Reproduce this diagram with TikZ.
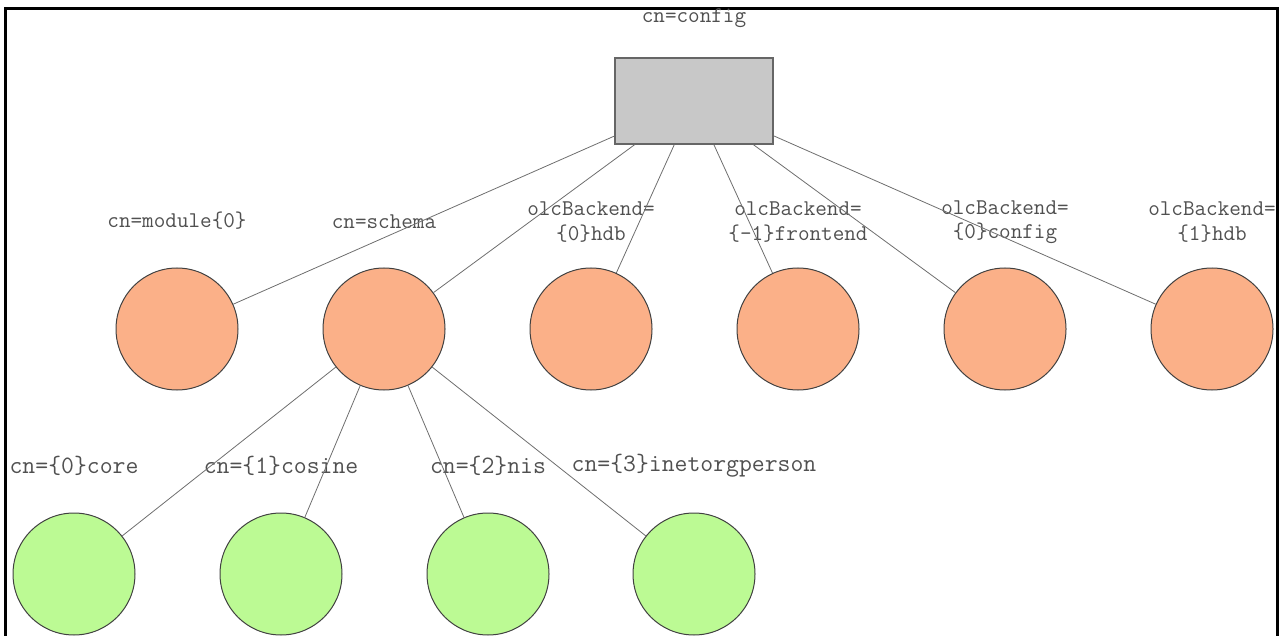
\documentclass[tikz,border=0pt]{standalone}
\usepackage{fontspec}
\definecolor{orangefill}{RGB}{251,176,136}
\definecolor{greenfill}{RGB}{188,250,148}
\definecolor{boxfill}{RGB}{200,200,200}
\definecolor{labelgray}{RGB}{80,80,80}
\definecolor{linegray}{RGB}{110,110,110}
\tikzset{
  orangenode/.style={circle, draw=black!75, line width=1pt, fill=orangefill, minimum size=122pt, inner sep=0pt},
  greennode/.style={circle, draw=black!75, line width=1pt, fill=greenfill, minimum size=122pt, inner sep=0pt},
  rootbox/.style={rectangle, draw=black!60, line width=1.3pt, fill=boxfill, minimum width=158pt, minimum height=86pt, inner sep=0pt},
  toplabel/.style={text=labelgray, font=\fontsize{22.5pt}{24.5pt}\selectfont\ttfamily, align=center, inner sep=0pt},
  botlabel/.style={text=labelgray, font=\fontsize{25pt}{27pt}\selectfont\ttfamily, align=center, inner sep=0pt},
  conn/.style={draw=linegray, line width=0.8pt},
  frameline/.style={draw=black, line width=3pt}
}
\begin{document}
\begin{tikzpicture}[x=1pt,y=-1pt]
\useasboundingbox (0,0) rectangle (1279,636);
% frame
\coordinate (fbl) at (5.5,636);
\coordinate (ftl) at (5.5,8.5);
\coordinate (ftr) at (1277.5,8.5);
\coordinate (fbr) at (1277.5,636);
\draw[frameline] (fbl) -- (ftl) -- (ftr) -- (fbr);
% nodes
\node[rootbox] (root) at (694,101) {};
\node[orangenode] (o1) at (177,329) {};
\node[orangenode] (o2) at (384,329) {};
\node[orangenode] (o3) at (591,329) {};
\node[orangenode] (o4) at (798,329) {};
\node[orangenode] (o5) at (1005,329) {};
\node[orangenode] (o6) at (1212,329) {};
\node[greennode] (g1) at (74,574) {};
\node[greennode] (g2) at (281,574) {};
\node[greennode] (g3) at (488,574) {};
\node[greennode] (g4) at (694,574) {};
% labels
\node[toplabel] (lroot) at (694,18) {cn=config};
\node[toplabel] (l1) at (177,221) {cn=module\{0\}};
\node[toplabel] (l2) at (384,222) {cn=schema};
\node[toplabel] (l3) at (591,222) {olcBackend=\\\{0\}hdb};
\node[toplabel] (l4) at (798,222) {olcBackend=\\\{-1\}frontend};
\node[toplabel] (l5) at (1005,222) {olcBackend=\\\{0\}config};
\node[toplabel] (l6) at (1212,222) {olcBackend=\\\{1\}hdb};
\node[botlabel] (m1) at (74,466) {cn=\{0\}core};
\node[botlabel] (m2) at (281,466) {cn=\{1\}cosine};
\node[botlabel] (m3) at (488,466) {cn=\{2\}nis};
\node[botlabel] (m4) at (694,466) {cn=\{3\}inetorgperson};
% connectors
\foreach \t in {o1,o2,o3,o4,o5,o6} \draw[conn] (root) -- (\t);
\foreach \t in {g1,g2,g3,g4} \draw[conn] (o2) -- (\t);
\end{tikzpicture}
\end{document}
